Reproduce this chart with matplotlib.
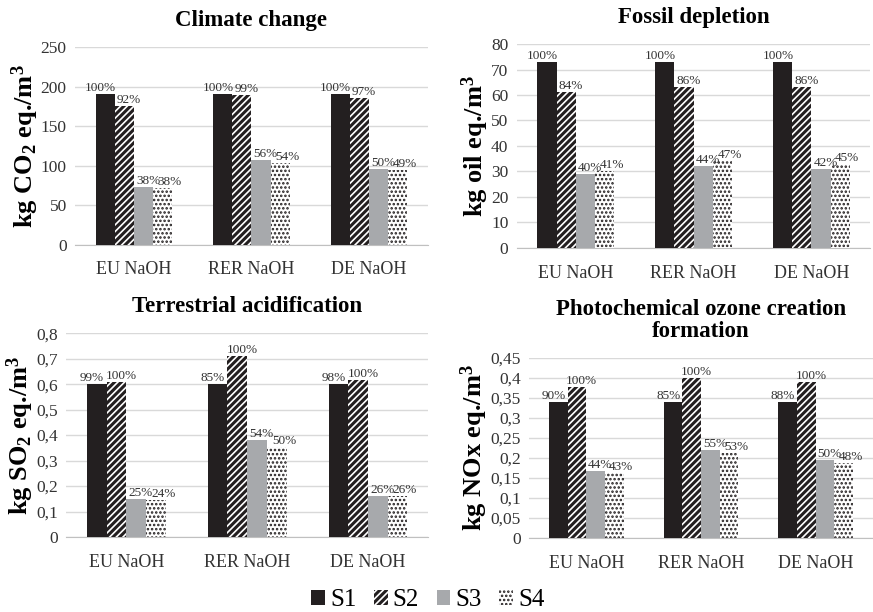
import numpy as np
import matplotlib
matplotlib.use('Agg')
import matplotlib.pyplot as plt
from matplotlib.patches import Patch
from matplotlib.ticker import FuncFormatter

plt.rcParams['font.family'] = 'Liberation Serif'
plt.rcParams['mathtext.fontset'] = 'custom'
plt.rcParams['mathtext.rm'] = 'Liberation Serif'
plt.rcParams['mathtext.bf'] = 'Liberation Serif:bold'
plt.rcParams['mathtext.default'] = 'regular'
plt.rcParams['hatch.linewidth'] = 1.2

categories = ['EU NaOH', 'RER NaOH', 'DE NaOH']
series = ['S1', 'S2', 'S3', 'S4']

# climate change, kg CO2 eq./m3
cc_vals = [[191, 191, 191], [175, 189, 186], [73, 107, 96], [72, 104, 94]]
cc_pct = [['100%', '100%', '100%'], ['92%', '99%', '97%'], ['38%', '56%', '50%'], ['38%', '54%', '49%']]
# fossil depletion, kg oil eq./m3
fd_vals = [[73, 73, 73], [61, 63, 63], [29, 32, 31], [30, 34, 33]]
fd_pct = [['100%', '100%', '100%'], ['84%', '86%', '86%'], ['40%', '44%', '42%'], ['41%', '47%', '45%']]
# terrestrial acidification, kg SO2 eq./m3
ta_vals = [[0.60, 0.60, 0.60], [0.61, 0.71, 0.615], [0.15, 0.38, 0.16], [0.145, 0.355, 0.16]]
ta_pct = [['99%', '85%', '98%'], ['100%', '100%', '100%'], ['25%', '54%', '26%'], ['24%', '50%', '26%']]
# photochemical ozone, kg NOx eq./m3
po_vals = [[0.34, 0.34, 0.34], [0.378, 0.40, 0.39], [0.167, 0.22, 0.195], [0.163, 0.212, 0.188]]
po_pct = [['90%', '85%', '88%'], ['100%', '100%', '100%'], ['44%', '55%', '50%'], ['43%', '53%', '48%']]

faces = ['#231f20', '#231f20', '#a7a9ac', 'white']
hatches = [None, '/////', None, '....']
edges = ['#231f20', 'white', '#a7a9ac', '#231f20']
lab_shift = [-0.04, 0.04, 0.04, 0.06]

comma = FuncFormatter(lambda v, p: ('%g' % v).replace('.', ','))


def draw(ax, vals, pct, title, ylabel, ymax, ystep, fmt=None):
    x = np.arange(len(categories))
    w = 0.163
    for i in range(4):
        pos = x + (i - 1.5) * w
        ax.bar(pos, vals[i], w, color=faces[i], hatch=hatches[i],
               edgecolor=edges[i], linewidth=0, zorder=3)
        for p, v, t in zip(pos, vals[i], pct[i]):
            ax.text(p + lab_shift[i], v, t, ha='center', va='bottom', fontsize=9.5,
                    color='#333333', zorder=6)
    ax.set_xlim(-0.5, 2.5)
    ax.set_ylim(0, ymax)
    ax.set_yticks(np.arange(0, ymax + ystep / 2, ystep))
    if fmt is not None:
        ax.yaxis.set_major_formatter(fmt)
    ax.set_xticks(x)
    ax.set_xticklabels(categories, fontsize=13)
    ax.tick_params(axis='y', length=0, labelsize=12.5, colors='#333333', pad=6)
    ax.tick_params(axis='x', length=0, pad=12, colors='#333333')
    ax.grid(axis='y', color='#d9d9d9', linewidth=1, zorder=0)
    for s in ['top', 'right', 'left']:
        ax.spines[s].set_visible(False)
    ax.spines['bottom'].set_color('#c0c0c0')
    ax.set_title(title, fontsize=16.5, fontweight='bold', pad=15, linespacing=1.05)
    ax.set_ylabel(ylabel, fontsize=19, fontweight='bold', labelpad=0)


fig = plt.figure(figsize=(8.73, 6.12), dpi=100)
ax1 = fig.add_axes([0.086, 0.600, 0.404, 0.323])
ax2 = fig.add_axes([0.592, 0.595, 0.405, 0.333])
ax3 = fig.add_axes([0.0756, 0.1225, 0.415, 0.333])
ax4 = fig.add_axes([0.606, 0.121, 0.394, 0.294])

draw(ax1, cc_vals, cc_pct, 'Climate change', 'kg CO$_2$ eq./m$^3$', 250, 50)
draw(ax2, fd_vals, fd_pct, 'Fossil depletion', 'kg oil eq./m$^3$', 80, 10)
draw(ax3, ta_vals, ta_pct, 'Terrestrial acidification', 'kg SO$_2$ eq./m$^3$', 0.8, 0.1, comma)
draw(ax4, po_vals, po_pct, 'Photochemical ozone creation\nformation', 'kg NOx eq./m$^3$', 0.45, 0.05, comma)

handles = [Patch(facecolor=faces[i], hatch=hatches[i], edgecolor=edges[i], linewidth=0, label=series[i])
           for i in range(4)]
fig.legend(handles=handles, loc='lower center', bbox_to_anchor=(0.49, -0.035), ncol=4, frameon=False,
           fontsize=18, handlelength=0.55, handleheight=0.55, handletextpad=0.2, columnspacing=0.7)

fig.savefig('out.png', dpi=100)
